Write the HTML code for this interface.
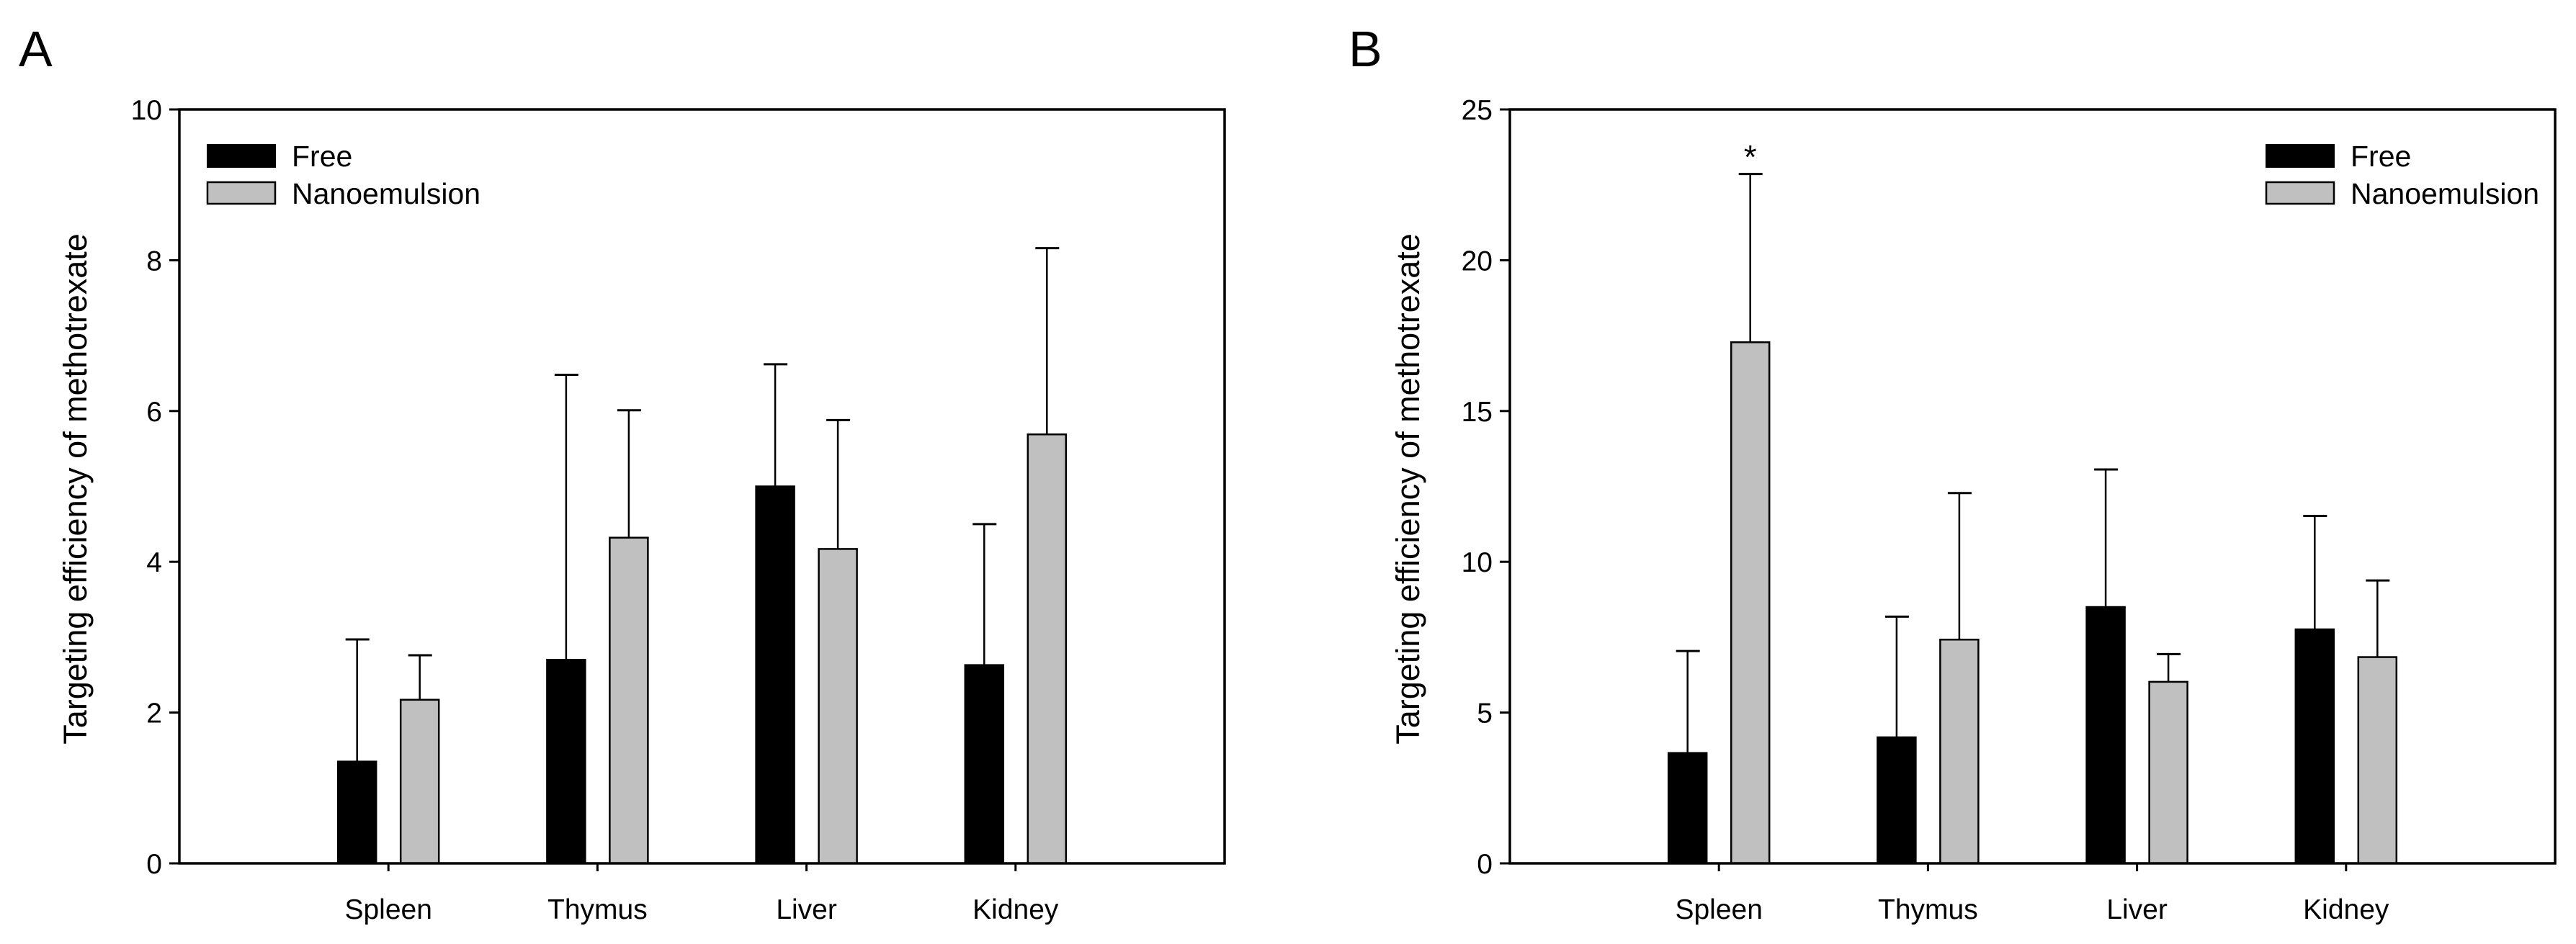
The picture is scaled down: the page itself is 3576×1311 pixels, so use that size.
<!DOCTYPE html>
<html><head><meta charset="utf-8"><style>
html,body{margin:0;padding:0;background:#fff;}
svg{display:block;font-family:"Liberation Sans",Arial,sans-serif;}
</style></head>
<body>
<svg id="fig" width="3576" height="1311" viewBox="0 0 3576 1311"></svg>
<script>
const categories = ["Spleen","Thymus","Liver","Kidney"];
const freeA = [1.35, 2.70, 5.00, 2.63];
const freeErrTopA = [2.97, 6.48, 6.62, 4.50];
const nanoA = [2.17, 4.32, 4.17, 5.69];
const nanoErrTopA = [2.76, 6.01, 5.88, 8.16];
const ticksA = [0, 2, 4, 6, 8, 10];
const freeB = [3.66, 4.18, 8.50, 7.76];
const freeErrTopB = [7.04, 8.18, 13.06, 11.52];
const nanoB = [17.28, 7.42, 6.02, 6.84];
const nanoErrTopB = [22.86, 12.28, 6.94, 9.38];
const ticksB = [0, 5, 10, 15, 20, 25];

const NS = "http://www.w3.org/2000/svg";
const svg = document.getElementById("fig");
function mk(tag, attrs, parent){
  const e = document.createElementNS(NS, tag);
  for (const k in attrs) e.setAttribute(k, attrs[k]);
  (parent||svg).appendChild(e);
  return e;
}

function panel(opt){
  const g = mk("g", {});
  
  
  const L = opt.left, R = opt.left + 1451, T = 152, B = 1199;
  const yMax = opt.ticks[opt.ticks.length-1];
  const y = v => B - (v / yMax) * (B - T);
  const x = i => L + (i + 1) * (R - L) / 5;
  const bw = 53, gap = 17;

  const lt = mk("text", {x: opt.letterX, y: 92, "font-size": 70}, g);
  lt.textContent = opt.letter;
  
  

  opt.ticks.forEach(t => {
    const tk = mk("line", {x1: L-14, x2: L, y1: y(t), y2: y(t), stroke: "#000", "stroke-width": 3}, g);
    
    
    const tl = mk("text", {x: L-24, y: y(t)+14, "font-size": 39, "text-anchor": "end"}, g);
    tl.textContent = t;
    
    
  });

  const yt = mk("text", {x: 0, y: 0, "font-size": 45, "text-anchor": "middle",
    transform: "translate(" + opt.titleX + ",679) rotate(-90)"}, g);
  yt.textContent = "Targeting efficiency of methotrexate";
  
  

  categories.forEach((c, i) => {
    const cx = x(i);
    const series = [
      {v: opt.free[i], e: opt.freeErr[i], fill: "#000", x0: cx - gap - bw, name: "bar-free-"},
      {v: opt.nano[i], e: opt.nanoErr[i], fill: "#c0c0c0", x0: cx + gap, name: "bar-nanoemulsion-"}
    ];
    series.forEach(s => {
      const mid = s.x0 + bw/2;
      const el = mk("line", {x1: mid, x2: mid, y1: y(s.v), y2: y(s.e), stroke: "#000", "stroke-width": 2.5}, g);
      
      
      const cap = mk("line", {x1: mid-16, x2: mid+17, y1: y(s.e), y2: y(s.e), stroke: "#000", "stroke-width": 3}, g);
      
      
      const r = mk("rect", {x: s.x0, y: y(s.v), width: bw, height: B - y(s.v), fill: s.fill, stroke: "#000", "stroke-width": 2.5}, g);
      
      
    });
    const xt = mk("line", {x1: cx, x2: cx, y1: B, y2: B+11, stroke: "#000", "stroke-width": 3}, g);
    
    
    const xl = mk("text", {x: cx, y: 1276, "font-size": 39, "text-anchor": "middle"}, g);
    xl.textContent = c;
    
    
  });

  const fr = mk("rect", {x: L, y: T, width: R-L, height: B-T, fill: "none", stroke: "#000", "stroke-width": 3.5}, g);
  
  

  if (opt.star !== undefined) {
    const st = mk("text", {x: x(opt.star) + gap + bw/2, y: 234, "font-size": 46, "text-anchor": "middle"}, g);
    st.textContent = "*";
    
    
  }

  const lg = mk("g", {}, g);
  
  
  const s1 = mk("rect", {x: opt.legX, y: 201, width: 94, height: 31, fill: "#000", stroke: "#000", "stroke-width": 2}, lg);
  
  
  const t1 = mk("text", {x: opt.legX + 117, y: 231, "font-size": 41}, lg);
  t1.textContent = "Free";
  
  
  const s2 = mk("rect", {x: opt.legX, y: 253, width: 94, height: 30, fill: "#c0c0c0", stroke: "#000", "stroke-width": 2.5}, lg);
  
  
  const t2 = mk("text", {x: opt.legX + 117, y: 283, "font-size": 41}, lg);
  t2.textContent = "Nanoemulsion";
  
  
}

panel({id: "panel-a", letter: "A", letterX: 26, left: 249, titleX: 120, ticks: ticksA,
  free: freeA, freeErr: freeErrTopA, nano: nanoA, nanoErr: nanoErrTopA, legX: 288});
panel({id: "panel-b", letter: "B", letterX: 1872, left: 2096, titleX: 1970, ticks: ticksB,
  free: freeB, freeErr: freeErrTopB, nano: nanoB, nanoErr: nanoErrTopB, legX: 3146, star: 0});
</script>
</body></html>
